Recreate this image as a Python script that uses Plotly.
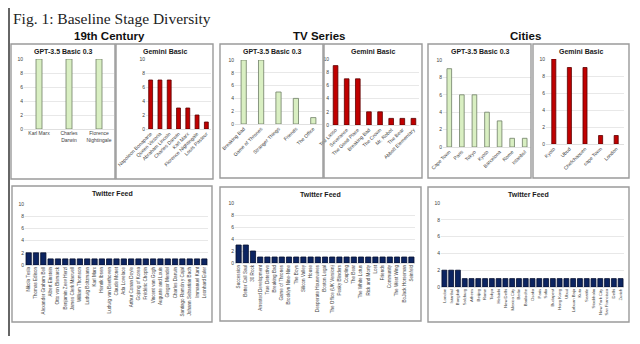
"""Fig. 1: Baseline Stage Diversity — 9 bar panels."""

import plotly.graph_objects as go

# the page body has an 8px margin, so the figure is drawn 8px in and made smaller
OFF = 8
W, H = 640 - OFF, 344 - OFF

# ---- data ----
c19_gpt_names = ["Karl Marx", "Charles<br>Darwin", "Florence<br>Nightingale"]
c19_gpt_vals = [10, 10, 10]
c19_gem_names = ["Napoleon Bonaparte", "Queen Victoria", "Abraham Lincoln", "Charles Darwin",
                 "Karl Marx", "Florence Nightingale", "Louis Pasteur"]
c19_gem_vals = [7, 7, 7, 3, 3, 2, 1]
c19_tw_names = ["Nikola Tesla", "Thomas Edison", "Alexander Graham Bell", "Albert Einstein",
                "Otto von Bismarck", "Benjamin Zeev Herzl", "James Clerk Maxwell", "William Thomson",
                "Ludwig Boltzmann", "Karl Marx", "Henrik Ibsen", "Ludwig van Beethoven", "Claude Monet",
                "Ada Lovelace", "Arthur Conan Doyle", "Gojong of Korea", "Frédéric Chopin",
                "Vincent van Gogh", "Auguste and Louis", "Gregor Mendel", "Charles Darwin",
                "Santiago Ramón y Cajal", "Johann Sebastian Bach", "Immanuel Kant", "Leonhard Euler"]
c19_tw_vals = [2, 2, 2] + [1] * 22

tv_gpt_names = ["Breaking Bad", "Game of Thrones", "Stranger Things", "Friends", "The Office"]
tv_gpt_vals = [10, 10, 5, 4, 1]
tv_gem_names = ["Ted Lasso", "Severance", "The Good Place", "Breaking Bad", "The Crown",
                "Mr. Robot", "The Bear", "Abbott Elementary"]
tv_gem_vals = [9, 7, 7, 2, 2, 1, 1, 1]
tv_tw_names = ["Succession", "Better Call Saul", "30 Rock", "Arrested Development", "True Detective",
               "Breaking Bad", "Game of Thrones", "Brooklyn Nine-Nine", "The Boys", "Silicon Valley",
               "House", "Desperate Housewives", "Boston Legal", "The Office (UK Version)",
               "Peaky Blinders", "Coupling", "The Bear", "The White Lotus", "Rick and Morty", "Lost",
               "Friends", "Community", "The West Wing", "BoJack Horseman", "Seinfeld"]
tv_tw_vals = [3, 3, 2] + [1] * 22

city_gpt_names = ["Cape Town", "Paris", "Tokyo", "Kyoto", "Barcelona", "Rome", "Istanbul"]
city_gpt_vals = [9, 6, 6, 4, 3, 1, 1]
city_gem_names = ["Kyoto", "Ubud", "Chefchaouen", "cape Town", "London"]
city_gem_vals = [10, 9, 9, 1, 1]
city_tw_names = ["London", "Istanbul", "Bangkok", "Salzburg", "Athens", "Beijing", "Rome", "Tokyo",
                 "Helsinki", "New Delhi", "Mexico City", "Berlin", "Bariloche", "Osaka", "Paris",
                 "Sofia", "Budapest", "Hong Kong", "Ubud", "Labuan Bajo", "Kuta", "Seattle",
                 "Stockholm", "New York City", "San Francisco", "Delhi", "Zurich"]
city_tw_vals = [2, 2, 2] + [1] * 24

y_ticks = [0, 2, 4, 6, 8, 10]

GPT = dict(fill="#d9efc2", line="#6f7d66")
GEM = dict(fill="#c00000", line="#5a0000")
TW = dict(fill="#0c2461", line="#050f2e")

# panel: names, values, style, title, frame(x0,x1,y0,y1), plot x0,x1, y(10), y(0), angle, bar width, font
panels = [
    (c19_gpt_names, c19_gpt_vals, GPT, "GPT-3.5 Basic 0.3", (11, 115, 44, 179), 24, 114, 59, 129, 0, 0.2, 5),
    (c19_gem_names, c19_gem_vals, GEM, "Gemini Basic", (116, 213, 44, 179), 146, 211, 59, 129, -45, 0.42, 5),
    (tv_gpt_names, tv_gpt_vals, GPT, "GPT-3.5 Basic 0.3", (220, 323, 44, 178), 235, 322, 60, 124, -45, 0.3, 5),
    (tv_gem_names, tv_gem_vals, GEM, "Gemini Basic", (324, 422, 44, 178), 330, 419, 59, 125, -45, 0.42, 5),
    (city_gpt_names, city_gpt_vals, GPT, "GPT-3.5 Basic 0.3", (428, 531, 44, 178), 443, 531, 60, 147, -45, 0.37, 5),
    (city_gem_names, city_gem_vals, GEM, "Gemini Basic", (533, 629, 44, 178), 546, 624, 59, 144, -45, 0.26, 5),
    (c19_tw_names, c19_tw_vals, TW, "Twitter Feed", (12, 212, 186, 322), 25, 208, 204, 265, -90, 0.72, 4.6),
    (tv_tw_names, tv_tw_vals, TW, "Twitter Feed", (220, 421, 187, 321), 235, 415, 203, 263, -90, 0.72, 4.6),
    (city_tw_names, city_tw_vals, TW, "Twitter Feed", (428, 629, 187, 322), 441, 624, 203, 287, -90, 0.72, 4.2),
]


def px(x):
    return (x - OFF) / W


def py(y):
    return 1 - (y - OFF) / H


fig = go.Figure()
shapes, annotations = [], []
layout = {}

for i, (names, vals, st, title, frame, x0, x1, ytop, ybot, angle, bw, fs) in enumerate(panels, start=1):
    xa, ya = f"xaxis{i}", f"yaxis{i}"
    fig.add_trace(go.Bar(
        x=names, y=vals, xaxis=f"x{i}", yaxis=f"y{i}", width=bw,
        marker=dict(color=st["fill"], line=dict(color=st["line"], width=0.8)),
        showlegend=False,
    ))
    layout[xa] = dict(
        domain=[px(x0), px(x1)], anchor=f"y{i}", tickangle=angle, automargin=False,
        tickfont=dict(size=fs, color="#404040", family="Liberation Sans"),
        showgrid=False, showline=False, ticks="", type="category", fixedrange=True,
    )
    layout[ya] = dict(
        domain=[py(ybot), py(ytop)], anchor=f"x{i}", range=[0, 10], tickvals=y_ticks,
        automargin=False,
        tickfont=dict(size=5, color="#404040", family="Liberation Sans"),
        showgrid=True, gridcolor="#e8e8e8", gridwidth=0.6, zeroline=True,
        zerolinecolor="#e0e0e0", zerolinewidth=0.6, showline=False, ticks="", fixedrange=True,
    )
    fx0, fx1, fy0, fy1 = frame
    shapes.append(dict(type="rect", xref="paper", yref="paper",
                       x0=px(fx0), x1=px(fx1), y0=py(fy1), y1=py(fy0),
                       line=dict(color="#9a9a9a", width=1.4)))
    annotations.append(dict(text=f"<b>{title}</b>", xref="paper", yref="paper",
                            x=px((fx0 + fx1) / 2), y=py(fy0 + 7.5), showarrow=False,
                            xanchor="center", yanchor="middle",
                            font=dict(size=7, color="#1a1a1a", family="Liberation Sans")))

# section headings
for label, cx in [("19th Century", 109), ("TV Series", 319), ("Cities", 525)]:
    annotations.append(dict(text=f"<b>{label}</b>", xref="paper", yref="paper",
                            x=px(cx), y=py(36), showarrow=False, xanchor="center", yanchor="middle",
                            font=dict(size=11.5, color="#111111", family="Liberation Sans")))

# figure title
annotations.append(dict(text="Fig. 1: Baseline Stage Diversity", xref="paper", yref="paper",
                        x=px(11), y=py(18), showarrow=False, xanchor="left", yanchor="middle",
                        font=dict(size=15.5, color="#222222", family="Liberation Serif")))

# page edge on the left
shapes.append(dict(type="line", xref="paper", yref="paper", x0=px(9), x1=px(9), y0=py(336), y1=1,
                   line=dict(color="#333333", width=1.5)))

fig.update_layout(
    width=W, height=H, margin=dict(l=0, r=0, t=0, b=0),
    paper_bgcolor="white", plot_bgcolor="white", bargap=0.3,
    shapes=shapes, annotations=annotations, **layout,
)

fig.write_html("out.html")
